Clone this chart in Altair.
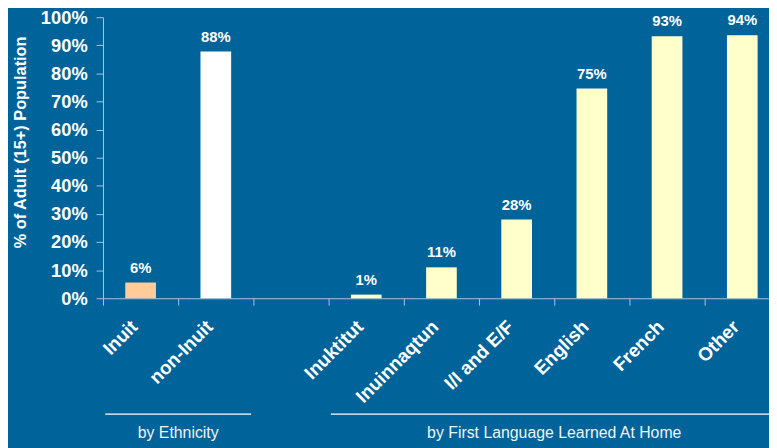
import altair as alt
import pandas as pd

categories = ["Inuit", "non-Inuit", " ", "Inuktitut", "Inuinnaqtun", "I/I and E/F", "English", "French", "Other"]
values = [5.6, 87.8, None, 1.3, 11.0, 28.0, 74.6, 93.2, 93.6]
fills = ["#FFCC99", "#FFFFFF", "#FFFFFF", "#FFFFCC", "#FFFFCC", "#FFFFCC", "#FFFFCC", "#FFFFCC", "#FFFFCC"]

group_names = ["by Ethnicity", "by First Language Learned At Home"]
group_first = ["Inuit", "Inuktitut"]
group_last = ["non-Inuit", "Other"]
group_mid = ["non-Inuit", "English"]

y_ticks = list(range(0, 101, 10))

BG = "#006399"
AXIS = "#a9c6dd"
FONT = "Liberation Sans"

df = pd.DataFrame({"category": categories, "value": values, "fill": fills})
gdf = pd.DataFrame({"group": group_names, "first": group_first, "last": group_last, "mid": group_mid})

xscale = alt.Scale(domain=categories, paddingInner=0, paddingOuter=0, range=[0, 684])
yscale = alt.Scale(domain=[0, 100], nice=False)

xaxis = alt.Axis(title=None, labelAngle=-45, tickBand="extent", tickSize=7,
                 domainColor=AXIS, tickColor=AXIS, labelColor="white",
                 labelFont=FONT, labelFontSize=19, labelFontWeight="bold",
                 labelPadding=12, labelOffset=-13, labelOverlap=False)
yaxis = alt.Axis(values=y_ticks, labelExpr="datum.value + '%'",
                 title="% of Adult (15+) Population", grid=False,
                 domainColor=AXIS, tickColor=AXIS, tickSize=7,
                 labelColor="white", labelFont=FONT, labelFontSize=18.5, labelFontWeight="bold",
                 labelPadding=9, labelOverlap=False,
                 titleColor="white", titleFont=FONT, titleFontSize=16.5,
                 titleFontWeight="bold", titlePadding=12, titleY=126)

base = alt.Chart(df)

bars = base.mark_bar(width=31).encode(
    x=alt.X("category:N", sort=categories, scale=xscale, axis=xaxis),
    y=alt.Y("value:Q", scale=yscale, axis=yaxis),
    color=alt.Color("fill:N", scale=None),
)

texts = base.transform_filter("isValid(datum.value)").transform_calculate(
    label="format(datum.value, '.0f') + '%'"
).mark_text(font=FONT, fontSize=15, fontWeight="bold", color="white",
            baseline="alphabetic", dy=-10).encode(
    x=alt.X("category:N", sort=categories, scale=xscale, axis=xaxis),
    y=alt.Y("value:Q", scale=yscale, axis=yaxis),
    text="label:N",
)

g = alt.Chart(gdf)
rules = g.mark_rule(color="white", strokeWidth=1.2).encode(
    x=alt.X("first:N", bandPosition=0.03, scale=xscale, axis=xaxis),
    x2=alt.X2("last:N", bandPosition=0.97),
    y=alt.value(401),
)
gtext = g.mark_text(font=FONT, fontSize=16, color="#eef4fa", baseline="middle").encode(
    x=alt.X("mid:N", bandPosition=0, scale=xscale, axis=xaxis),
    y=alt.value(420),
    text="group:N",
)

chart = alt.layer(bars, texts, rules, gtext).properties(
    width=673, height=284, background=BG,
    padding={"left": 96, "top": 7, "right": 0, "bottom": 149},
    autosize=alt.AutoSizeParams(type="none"),
).configure_view(stroke=None)

chart.save("out.html", embed_options={"renderer": "svg", "actions": False})
